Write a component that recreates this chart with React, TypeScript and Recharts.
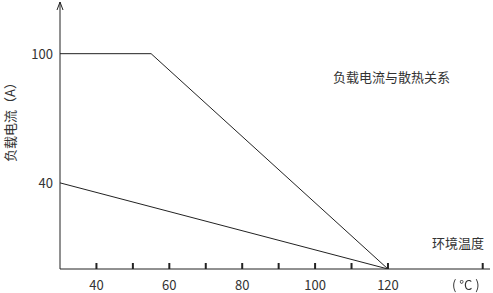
import { LineChart, Line, XAxis, YAxis, ReferenceDot } from 'recharts';

const highLoad = [
  { t: 30, i: 100 },
  { t: 55, i: 100 },
  { t: 120, i: 0 },
];

const lowLoad = [
  { t: 30, i: 40 },
  { t: 120, i: 0 },
];

const xTicks = [40, 50, 60, 70, 80, 90, 100, 110, 120, 146];
const xLabels = [40, 60, 80, 100, 120];
const yTicks = [40, 100];

const font = '"Noto Sans CJK SC", "Noto Sans", sans-serif';
const ink = '#222';

const XTick = (props: any) => {
  const { x, y, payload } = props;
  const v = payload.value;
  return (
    <g>
      <line x1={x} x2={x} y1={y - 6} y2={y} stroke={ink} strokeWidth={2} />
      {xLabels.includes(v) && (
        <text x={x} y={y + 21} textAnchor="middle" fontSize={13} fill="#333">
          {v}
        </text>
      )}
    </g>
  );
};

const YTick = (props: any) => {
  const { x, y, payload } = props;
  return (
    <text x={x - 7} y={y + 5} textAnchor="end" fontSize={13} fill="#333">
      {payload.value}
    </text>
  );
};

const Arrow = (props: any) => {
  const { cx, cy } = props;
  return (
    <path d={`M${cx - 3},${cy + 8} L${cx},${cy} L${cx + 3},${cy + 8}`} fill="none" stroke={ink} strokeWidth={1} />
  );
};

const note = { position: 'absolute' as const, fontSize: 13, color: '#333', whiteSpace: 'nowrap' as const, lineHeight: '18px' };

export default function App() {
  return (
    <div style={{ position: 'fixed', left: 0, top: 0, width: 493, height: 293, background: '#fff', fontFamily: font }}>
      <LineChart width={493} height={293} data={highLoad} margin={{ top: 2, right: 3, bottom: 23, left: 0 }}>
        <XAxis
          type="number"
          dataKey="t"
          domain={[30, 148]}
          ticks={xTicks}
          interval={0}
          height={1}
          tickSize={0}
          tickMargin={0}
          tickLine={false}
          tick={<XTick />}
          axisLine={{ stroke: ink, strokeWidth: 1 }}
          allowDataOverflow
        />
        <YAxis
          type="number"
          domain={[0, 124]}
          ticks={yTicks}
          width={60}
          tickLine={false}
          tickSize={0}
          tickMargin={0}
          axisLine={{ stroke: ink, strokeWidth: 1 }}
          tick={<YTick />}
          allowDataOverflow
        />
        <Line data={highLoad} dataKey="i" stroke={ink} strokeWidth={1} dot={false} activeDot={false} isAnimationActive={false} />
        <Line data={lowLoad} dataKey="i" stroke={ink} strokeWidth={1} dot={false} activeDot={false} isAnimationActive={false} />
        <ReferenceDot x={30} y={124} r={0} shape={<Arrow />} ifOverflow="visible" />
      </LineChart>
      <div style={{ ...note, left: 10, top: 119, transform: 'translate(-50%, -50%) rotate(-90deg)' }}>
        负载电流（A）
      </div>
      <div style={{ ...note, left: 333, top: 68 }}>负载电流与散热关系</div>
      <div style={{ ...note, left: 432, top: 234 }}>环境温度</div>
      <div style={{ ...note, left: 452, top: 276 }}>( °C )</div>
    </div>
  );
}
